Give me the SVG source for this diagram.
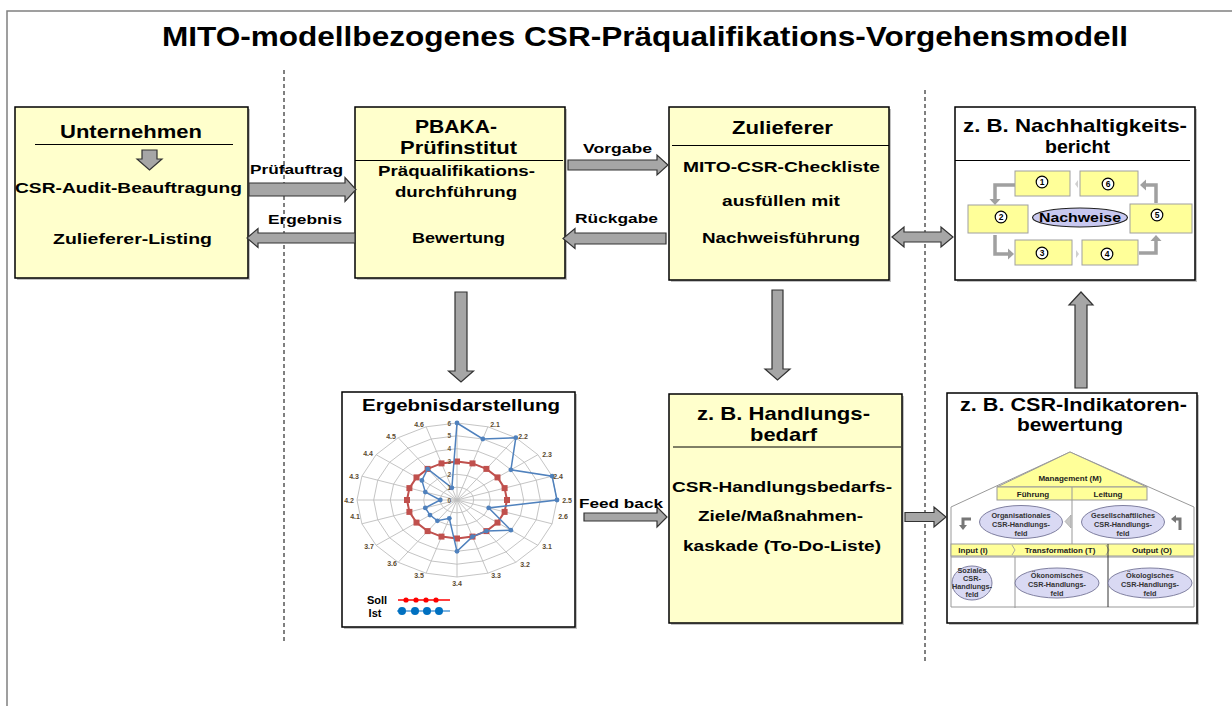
<svg xmlns="http://www.w3.org/2000/svg" width="1232" height="706" viewBox="0 0 1232 706">
<style>
text{font-family:"Liberation Sans",Arial,sans-serif;font-weight:bold;fill:#000;text-anchor:middle}
.box{fill:#FFFFCC;stroke:#000;stroke-width:1.5}
.wbox{fill:#fff;stroke:#000;stroke-width:1.5}
.shadow{fill:#777;opacity:.45}
.sep{stroke:#000;stroke-width:1}
.h{font-size:19px}
.b{font-size:15.5px}
.lbl{font-size:13.5px}
.blk{fill:#A6A6A6;stroke:#333;stroke-width:1.2;stroke-linejoin:miter}
.grid{fill:none;stroke:#BDBDBD;stroke-width:.9}
.ax{font-size:6.5px;fill:#6a5a40;text-anchor:end}
.sp{font-size:7px;fill:#5a4a30}
.nb{fill:#FFFF99;stroke:#A0A0A0;stroke-width:1}
.ga{fill:none;stroke:#A0A0A0;stroke-width:3.5}
.gh{fill:#A0A0A0}
.num{fill:#fff;stroke:#000;stroke-width:1.2}
.n{font-size:8.5px}
.ell{fill:#D9D9F3;stroke:#7F7FA0;stroke-width:1}
.hy{fill:#FFFF99;stroke:#999;stroke-width:1}
.s8{font-size:8px;fill:#222}
.s7{font-size:7.3px;fill:#333}
.frame{fill:none;stroke:#808080;stroke-width:1.5}
.dash{stroke:#000;stroke-width:1;stroke-dasharray:4,3}
</style>
<defs>
<marker id="sq" markerUnits="userSpaceOnUse" markerWidth="8" markerHeight="8" refX="4" refY="4"><rect x="1" y="1" width="6" height="6" fill="#C0504D"/></marker>
<marker id="dot" markerUnits="userSpaceOnUse" markerWidth="6" markerHeight="6" refX="3" refY="3"><circle cx="3" cy="3" r="2.4" fill="#4F81BD"/></marker>
</defs>

<!-- outer frame -->
<path class="frame" d="M7,706 V11 H1232"/>
<line class="dash" x1="284" y1="70" x2="284" y2="643"/>
<line class="dash" x1="925" y1="90" x2="925" y2="663"/>

<text id="title" x="645" y="46" style="font-size:27px" textLength="966" lengthAdjust="spacingAndGlyphs">MITO-modellbezogenes CSR-Präqualifikations-Vorgehensmodell</text>

<g id="unternehmen">
<rect class="shadow" x="17" y="109" width="233" height="171"/>
<rect class="box" x="15" y="107" width="233" height="171"/>
<text class="h" x="131" y="138" textLength="142" lengthAdjust="spacingAndGlyphs">Unternehmen</text>
<line class="sep" x1="35" y1="144.5" x2="233" y2="144.5"/>
<polygon class="blk" points="142,150 157,150 157,159 162,159 149.5,170 137,159 142,159"/>
<text class="b" x="128.5" y="193" textLength="227" lengthAdjust="spacingAndGlyphs">CSR-Audit-Beauftragung</text>
<text class="b" x="132.5" y="244" textLength="159" lengthAdjust="spacingAndGlyphs">Zulieferer-Listing</text>
</g>

<g id="pbaka">
<rect class="shadow" x="357" y="109" width="210" height="171"/>
<rect class="box" x="355" y="107" width="210" height="171"/>
<text class="h" x="456" y="133" textLength="82" lengthAdjust="spacingAndGlyphs">PBAKA-</text>
<text class="h" x="458.5" y="154" textLength="117" lengthAdjust="spacingAndGlyphs">Prüfinstitut</text>
<line class="sep" x1="355" y1="160.5" x2="563" y2="160.5"/>
<text class="b" x="456.5" y="176" textLength="157" lengthAdjust="spacingAndGlyphs">Präqualifikations-</text>
<text class="b" x="456" y="197" textLength="122" lengthAdjust="spacingAndGlyphs">durchführung</text>
<text class="b" x="458.5" y="243" textLength="93" lengthAdjust="spacingAndGlyphs">Bewertung</text>
</g>

<g id="zulieferer">
<rect class="shadow" x="671" y="109" width="220" height="173"/>
<rect class="box" x="669" y="107" width="220" height="173"/>
<text class="h" x="782.5" y="134" textLength="101" lengthAdjust="spacingAndGlyphs">Zulieferer</text>
<line class="sep" x1="672" y1="145.5" x2="889" y2="145.5"/>
<text class="b" x="781.5" y="172" textLength="197" lengthAdjust="spacingAndGlyphs">MITO-CSR-Checkliste</text>
<text class="b" x="781" y="206" textLength="118" lengthAdjust="spacingAndGlyphs">ausfüllen mit</text>
<text class="b" x="781" y="243" textLength="158" lengthAdjust="spacingAndGlyphs">Nachweisführung</text>
</g>

<g id="nachhaltigkeitsbericht">
<rect class="shadow" x="957" y="109" width="240" height="173"/>
<rect class="wbox" x="955" y="107" width="240" height="173"/>
<text class="h" x="1075" y="132" textLength="224" lengthAdjust="spacingAndGlyphs">z. B. Nachhaltigkeits-</text>
<text class="h" x="1077.5" y="153" textLength="65" lengthAdjust="spacingAndGlyphs">bericht</text>
<line class="sep" x1="955" y1="160.5" x2="1190" y2="160.5"/>
<path class="ga" d="M1015,185 H995 V199"/>
<polygon class="gh" points="989.5,199 1000.5,199 995,205"/>
<path class="ga" d="M995,235 V254 H1008"/>
<polygon class="gh" points="1008,248.5 1008,259.5 1014,254"/>
<path class="ga" d="M1139,253 H1156 V241"/>
<polygon class="gh" points="1150.5,241 1161.5,241 1156,235"/>
<path class="ga" d="M1156,203 V185 H1146"/>
<polygon class="gh" points="1146,179.5 1146,190.5 1140,185"/>
<polygon points="1075,184 1078,180 1078,188" fill="#D0D0D0"/>
<polygon points="1079,254 1076,250 1076,258" fill="#D0D0D0"/>
<rect class="nb" x="1015" y="171" width="55" height="25"/>
<rect class="nb" x="1080" y="171" width="58" height="25"/>
<rect class="nb" x="968" y="205" width="60" height="28"/>
<rect class="nb" x="1130" y="204" width="62" height="29"/>
<rect class="nb" x="1015" y="240" width="57" height="25"/>
<rect class="nb" x="1082" y="240" width="56" height="25"/>
<circle class="num" cx="1042" cy="182" r="5.8"/><text class="n" x="1042" y="185">1</text>
<circle class="num" cx="1108" cy="184" r="5.8"/><text class="n" x="1108" y="187">6</text>
<circle class="num" cx="1001" cy="217" r="5.8"/><text class="n" x="1001" y="220">2</text>
<circle class="num" cx="1157" cy="215" r="5.8"/><text class="n" x="1157" y="218">5</text>
<circle class="num" cx="1042" cy="253" r="5.8"/><text class="n" x="1042" y="256">3</text>
<circle class="num" cx="1107" cy="254" r="5.8"/><text class="n" x="1107" y="257">4</text>
<ellipse cx="1080" cy="217.5" rx="47.5" ry="9.5" fill="#C8C8F0" stroke="#222" stroke-width="1.2"/>
<text x="1080" y="221.5" style="font-size:12px" textLength="82" lengthAdjust="spacingAndGlyphs">Nachweise</text>
</g>

<g id="ergebnisdarstellung">
<rect class="shadow" x="344" y="394" width="233" height="235"/>
<rect class="wbox" x="342" y="392" width="233" height="235"/>
<text x="461" y="411" style="font-size:16.5px" textLength="198" lengthAdjust="spacingAndGlyphs">Ergebnisdarstellung</text>
<g class="grid">
<polygon points="457,487.2 462.2,487.8 466.8,489.6 470.5,492.5 472.9,496 473.7,500 472.9,504 470.5,507.5 466.8,510.4 462.2,512.2 457,512.8 451.8,512.2 447.2,510.4 443.5,507.5 441.1,504 440.3,500 441.1,496 443.5,492.5 447.2,489.6 451.8,487.8"/>
<polygon points="457,474.3 467.3,475.6 476.6,479.2 484,484.9 488.7,492.1 490.3,500 488.7,507.9 484,515.1 476.6,520.8 467.3,524.4 457,525.7 446.7,524.4 437.4,520.8 430,515.1 425.3,507.9 423.7,500 425.3,492.1 430,484.9 437.4,479.2 446.7,475.6"/>
<polygon points="457,461.5 472.5,463.4 486.4,468.9 497.5,477.4 504.6,488.1 507,500 504.6,511.9 497.5,522.6 486.4,531.1 472.5,536.6 457,538.5 441.5,536.6 427.6,531.1 416.5,522.6 409.4,511.9 407,500 409.4,488.1 416.5,477.4 427.6,468.9 441.5,463.4"/>
<polygon points="457,448.7 477.6,451.2 496.2,458.5 510.9,469.8 520.4,484.1 523.7,500 520.4,515.9 510.9,530.2 496.2,541.5 477.6,548.8 457,551.3 436.4,548.8 417.8,541.5 403.1,530.2 393.6,515.9 390.3,500 393.6,484.1 403.1,469.8 417.8,458.5 436.4,451.2"/>
<polygon points="457,435.8 482.8,439 506,448.1 524.4,462.3 536.3,480.2 540.3,500 536.3,519.8 524.4,537.7 506,551.9 482.8,561 457,564.2 431.2,561 408,551.9 389.6,537.7 377.7,519.8 373.7,500 377.7,480.2 389.6,462.3 408,448.1 431.2,439"/>
<polygon points="457,423 487.9,426.8 515.8,437.7 537.9,454.7 552.1,476.2 557,500 552.1,523.8 537.9,545.3 515.8,562.3 487.9,573.2 457,577 426.1,573.2 398.2,562.3 376.1,545.3 361.9,523.8 357,500 361.9,476.2 376.1,454.7 398.2,437.7 426.1,426.8"/>
<path d="M457,500L457,423M457,500L487.9,426.8M457,500L515.8,437.7M457,500L537.9,454.7M457,500L552.1,476.2M457,500L557,500M457,500L552.1,523.8M457,500L537.9,545.3M457,500L515.8,562.3M457,500L487.9,573.2M457,500L457,577M457,500L426.1,573.2M457,500L398.2,562.3M457,500L376.1,545.3M457,500L361.9,523.8M457,500L357,500M457,500L361.9,476.2M457,500L376.1,454.7M457,500L398.2,437.7M457,500L426.1,426.8"/>
</g>
<polygon fill="none" stroke="#C0504D" stroke-width="2" marker-start="url(#sq)" marker-mid="url(#sq)" points="457,461.5 472.5,463.4 486.4,468.9 497.5,477.4 504.6,488.1 507,500 504.6,511.9 497.5,522.6 486.4,531.1 472.5,536.6 457,538.5 441.5,536.6 427.6,531.1 416.5,522.6 409.4,511.9 407,500 409.4,488.1 416.5,477.4 427.6,468.9 441.5,463.4"/>
<polygon fill="none" stroke="#4F81BD" stroke-width="1.5" marker-start="url(#dot)" marker-mid="url(#dot)" points="457,423 482.8,439 515.8,437.7 510.9,469.8 552.1,476.2 557,500 488.7,507.9 510.9,530.2 486.4,531.1 472.5,536.6 457,551.3 449.3,518.3 437.4,520.8 430,515.1 425.3,507.9 440.3,500 425.3,492.1 421.9,480.4 427.6,468.9 451.9,487.8"/>
<text class="ax" x="451" y="425.5">6</text>
<text class="ax" x="451" y="438.3">5</text>
<text class="ax" x="451" y="451.2">4</text>
<text class="ax" x="451" y="464">3</text>
<text class="ax" x="451" y="476.8">2</text>
<text class="ax" x="451" y="489.6">1</text>
<text class="ax" x="451" y="502.5">0</text>
<text class="sp" x="495" y="426.5">2.1</text>
<text class="sp" x="523" y="438.5">2.2</text>
<text class="sp" x="547" y="456.5">2.3</text>
<text class="sp" x="558" y="478.5">2.4</text>
<text class="sp" x="567" y="502.5">2.5</text>
<text class="sp" x="563" y="518.5">2.6</text>
<text class="sp" x="547" y="549">3.1</text>
<text class="sp" x="525" y="566.5">3.2</text>
<text class="sp" x="496" y="577.5">3.3</text>
<text class="sp" x="457" y="586">3.4</text>
<text class="sp" x="419" y="577.5">3.5</text>
<text class="sp" x="392" y="566">3.6</text>
<text class="sp" x="369" y="549">3.7</text>
<text class="sp" x="355" y="518.5">4.1</text>
<text class="sp" x="349" y="502.5">4.2</text>
<text class="sp" x="354" y="478.5">4.3</text>
<text class="sp" x="368" y="456">4.4</text>
<text class="sp" x="391" y="438.5">4.5</text>
<text class="sp" x="419" y="426.5">4.6</text>
<text x="377" y="603.5" style="font-size:11px">Soll</text>
<text x="375" y="617" style="font-size:11px">Ist</text>
<line x1="398" y1="600" x2="450" y2="600" stroke="#FF0000" stroke-width="1.5"/>
<g fill="#FF0000"><circle cx="406" cy="600" r="2.6"/><circle cx="416" cy="600" r="2.6"/><circle cx="426" cy="600" r="2.6"/><circle cx="436" cy="600" r="2.6"/></g>
<line x1="397" y1="611" x2="450" y2="611" stroke="#4F9BD9" stroke-width="1.5"/>
<g fill="#0070C0"><circle cx="402" cy="611" r="4"/><circle cx="415" cy="611" r="4"/><circle cx="427" cy="611" r="4"/><circle cx="439" cy="611" r="4"/></g>
</g>

<g id="handlungsbedarf">
<rect class="shadow" x="671" y="396" width="233" height="229"/>
<rect class="box" x="669" y="394" width="233" height="229"/>
<text class="h" x="783.5" y="420" textLength="173" lengthAdjust="spacingAndGlyphs">z. B. Handlungs-</text>
<text class="h" x="783.5" y="441" textLength="67" lengthAdjust="spacingAndGlyphs">bedarf</text>
<line class="sep" x1="673" y1="447" x2="901" y2="447"/>
<text class="b" x="782" y="492" textLength="220" lengthAdjust="spacingAndGlyphs">CSR-Handlungsbedarfs-</text>
<text class="b" x="780.5" y="521" textLength="165" lengthAdjust="spacingAndGlyphs">Ziele/Maßnahmen-</text>
<text class="b" x="782" y="551" textLength="198" lengthAdjust="spacingAndGlyphs">kaskade (To-Do-Liste)</text>
</g>

<g id="csr-indikatorenbewertung">
<rect class="shadow" x="949" y="395" width="250" height="230"/>
<rect class="wbox" x="947" y="393" width="250" height="230"/>
<text x="1073.5" y="410.5" style="font-size:17.5px" textLength="227" lengthAdjust="spacingAndGlyphs">z. B. CSR-Indikatoren-</text>
<text x="1070" y="431" style="font-size:17.5px" textLength="106" lengthAdjust="spacingAndGlyphs">bewertung</text>
<path d="M951,607 V507 L1070,452 L1194,507 V607 Z" fill="#fff" stroke="#999" stroke-width="1"/>
<polygon class="hy" points="1070,452 997,487 1147,487"/>
<text class="s8" x="1070" y="481">Management (M)</text>
<rect class="hy" x="997" y="487" width="150" height="13"/>
<line x1="1072" y1="487" x2="1072" y2="544" stroke="#999" stroke-width="1"/>
<text class="s8" x="1033" y="496.5">Führung</text>
<text class="s8" x="1108" y="496.5">Leitung</text>
<ellipse class="ell" cx="1021" cy="522" rx="41.5" ry="16.5"/>
<text class="s7" x="1021" y="518">Organisationales</text>
<text class="s7" x="1021" y="527">CSR-Handlungs-</text>
<text class="s7" x="1021" y="536">feld</text>
<ellipse class="ell" cx="1123" cy="522" rx="41.5" ry="16.5"/>
<text class="s7" x="1123" y="518">Gesellschaftliches</text>
<text class="s7" x="1123" y="527">CSR-Handlungs-</text>
<text class="s7" x="1123" y="536">feld</text>
<polygon points="1065,521.5 1071,515 1071,528" fill="#C8C8C8" stroke="#999" stroke-width=".6"/>
<path d="M971,519 H963 V526" fill="none" stroke="#777" stroke-width="3"/>
<polygon points="959,525 967,525 963,530" fill="#777"/>
<path d="M1176,519 H1180 V530" fill="none" stroke="#777" stroke-width="3"/>
<polygon points="1176,515 1176,523 1171,519" fill="#777"/>
<rect class="hy" x="951" y="544" width="243" height="12"/>
<path d="M1012,545 L1015,550 L1012,555 M1106,545 L1109,550 L1106,555" fill="none" stroke="#999" stroke-width=".8"/>
<text class="s8" x="973" y="553">Input (I)</text>
<text class="s8" x="1060" y="553">Transformation (T)</text>
<text class="s8" x="1152" y="553">Output (O)</text>
<line x1="951" y1="557" x2="1194" y2="557" stroke="#999" stroke-width="1"/>
<line x1="1015" y1="557" x2="1015" y2="608" stroke="#999" stroke-width="1"/>
<line x1="1108" y1="544" x2="1108" y2="607" stroke="#333" stroke-width="1"/>
<ellipse class="ell" cx="972" cy="583" rx="20" ry="17"/>
<text class="s7" x="972" y="573">Soziales</text>
<text class="s7" x="972" y="581">CSR-</text>
<text class="s7" x="972" y="589">Handlungs-</text>
<text class="s7" x="972" y="597">feld</text>
<ellipse class="ell" cx="1057" cy="583" rx="42" ry="15"/>
<text class="s7" x="1057" y="578">Ökonomisches</text>
<text class="s7" x="1057" y="587">CSR-Handlungs-</text>
<text class="s7" x="1057" y="596">feld</text>
<ellipse class="ell" cx="1150" cy="583" rx="42" ry="15"/>
<text class="s7" x="1150" y="578">Ökologisches</text>
<text class="s7" x="1150" y="587">CSR-Handlungs-</text>
<text class="s7" x="1150" y="596">feld</text>
</g>

<g id="connectors">
<polygon class="blk" points="249,183 345,183 345,177.5 356,189.5 345,201.5 345,196 249,196"/>
<text class="lbl" x="296.5" y="174" textLength="93" lengthAdjust="spacingAndGlyphs">Prüfauftrag</text>
<polygon class="blk" points="355,233 258,233 258,228.5 247,238 258,247.5 258,243 355,243"/>
<text class="lbl" x="305" y="224" textLength="74" lengthAdjust="spacingAndGlyphs">Ergebnis</text>
<polygon class="blk" points="568,160 657,160 657,155 668,165 657,175 657,170 568,170"/>
<text class="lbl" x="617.5" y="153" textLength="69" lengthAdjust="spacingAndGlyphs">Vorgabe</text>
<polygon class="blk" points="666,233 575,233 575,228.5 563,238.5 575,248.5 575,244 666,244"/>
<text class="lbl" x="616.5" y="223" textLength="83" lengthAdjust="spacingAndGlyphs">Rückgabe</text>
<polygon class="blk" points="892,237 904,227 904,232 941,232 941,227 953,237 941,247 941,242 904,242 904,247"/>
<polygon class="blk" points="455,292 467,292 467,371 473.5,371 461,382 448.5,371 455,371"/>
<polygon class="blk" points="772,290 783,290 783,369 790,369 777.5,380 765,369 772,369"/>
<polygon class="blk" points="584,513 657,513 657,507 667,517 657,527 657,521 584,521"/>
<text class="lbl" x="621" y="508" textLength="84" lengthAdjust="spacingAndGlyphs">Feed back</text>
<polygon class="blk" points="905,512.5 934,512.5 934,507 946,517 934,527 934,521.5 905,521.5"/>
<polygon class="blk" points="1075,388 1087,388 1087,305 1093,305 1081,292 1069,305 1075,305"/>
</g>
</svg>
